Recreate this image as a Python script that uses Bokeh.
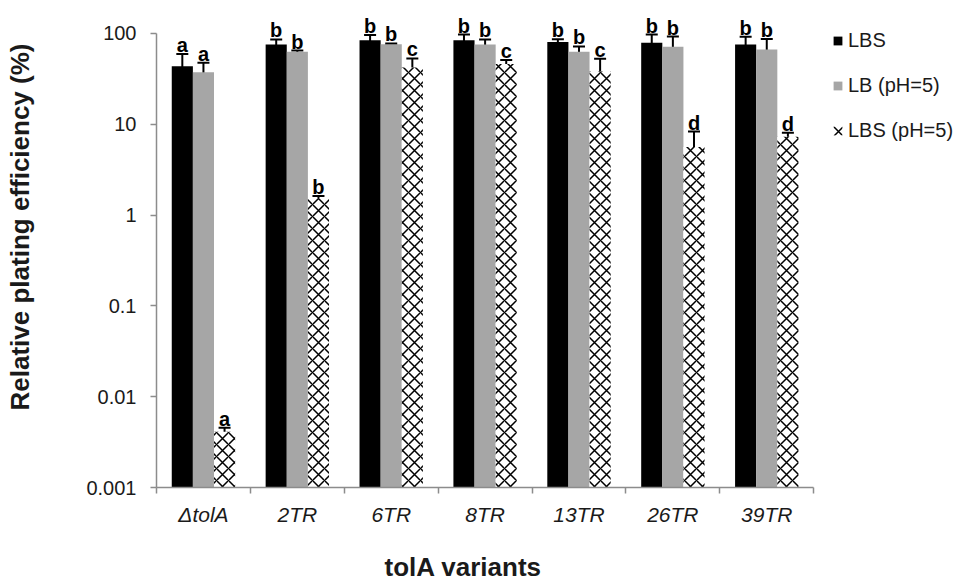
from bokeh.plotting import figure
from bokeh.models import (ColumnDataSource, Range1d, Whisker, TeeHead, LinearAxis,
                          FixedTicker, Legend, LegendItem, Title, NumeralTickFormatter)
from bokeh.transform import dodge
from bokeh.core.properties import value
from bokeh.embed import file_html
from bokeh.resources import INLINE

# ---------------- data ----------------
categories = ["ΔtolA", "2TR", "6TR", "8TR", "13TR", "26TR", "39TR"]
series_names = ["LBS", "LB (pH=5)", "LBS (pH=5)"]

lbs = [43.5, 75.7, 84.3, 84.0, 80.2, 79.0, 75.7]
lbs_err = [16, 10, 11.5, 13, 6, 18, 16]
lb5 = [37.4, 62.8, 76.0, 75.7, 62.8, 71.3, 66.6]
lb5_err = [10, 2, 1.5, 10, 9, 21, 20]
lbs5 = [0.0041, 1.5, 42, 46, 38, 5.6, 7.3]
lbs5_err = [0.00045, 0.12, 11, 5, 14.5, 2.7, 0.75]

lbs_letters = ["a", "b", "b", "b", "b", "b", "b"]
lb5_letters = ["a", "b", "b", "b", "b", "b", "b"]
lbs5_letters = ["a", "b", "c", "c", "c", "d", "d"]

y_ticks = [0.001, 0.01, 0.1, 1, 10, 100]
y_tick_labels = ["0.001", "0.01", "0.1", "1", "10", "100"]

x_title = "tolA variants"
y_title = "Relative plating efficiency (%)"

# ---------------- layout / styling ----------------
y_view_top = 188      # head-room above the axis so the letters stay inside the plot area
x_view_end = 8.67     # room to the right of the last group for the legend
FONT = "Liberation Sans"
AXIS_COLOR = "#8c8c8c"
TEXT = "#1a1a1a"
GRAY = "#a6a6a6"
OFF = 0.225
W = 0.225
n = len(categories)

src = ColumnDataSource(dict(
    x=[i + 0.5 for i in range(n)],
    lbs=lbs, lbs_lo=[v - e for v, e in zip(lbs, lbs_err)], lbs_hi=[v + e for v, e in zip(lbs, lbs_err)],
    lb5=lb5, lb5_lo=[v - e for v, e in zip(lb5, lb5_err)], lb5_hi=[v + e for v, e in zip(lb5, lb5_err)],
    lbs5=lbs5, lbs5_lo=[v - e for v, e in zip(lbs5, lbs5_err)], lbs5_hi=[v + e for v, e in zip(lbs5, lbs5_err)],
    lbs_let=lbs_letters, lb5_let=lb5_letters, lbs5_let=lbs5_letters,
))

p = figure(width=974, height=584, x_range=Range1d(0, x_view_end),
           y_axis_type="log", y_range=(y_ticks[0], y_view_top),
           output_backend="svg", toolbar_location=None, x_axis_location=None,
           min_border_left=156, min_border_right=4, min_border_top=8, min_border_bottom=97)
p.outline_line_color = None
p.grid.grid_line_color = None
p.background_fill_color = "white"

# y axis
ya = p.yaxis[0]
ya.bounds = (y_ticks[0], y_ticks[-1])
ya.ticker = FixedTicker(ticks=y_ticks, minor_ticks=[])
ya.formatter = NumeralTickFormatter(format="0.[000]")
ya.major_label_overrides = dict(zip(y_ticks, y_tick_labels))
ya.axis_line_color = AXIS_COLOR
ya.axis_line_width = 1.5
ya.major_tick_line_color = AXIS_COLOR
ya.major_tick_line_width = 1.5
ya.major_tick_out = 6
ya.major_tick_in = 0
ya.minor_tick_line_color = None
ya.major_label_standoff = 14
ya.major_label_text_font = FONT
ya.major_label_text_font_size = "20px"
ya.major_label_text_color = TEXT
ya.axis_label = " "                     # blank spacer: pushes the y title outwards
ya.axis_label_text_font_size = "10px"
ya.axis_label_standoff = 35

# x axis: labels at group centres, tick marks at group boundaries
xa = LinearAxis(
    bounds=(0, n),
    ticker=FixedTicker(ticks=[i + 0.5 for i in range(n)], minor_ticks=list(range(n + 1))),
    major_label_overrides={i + 0.5: c for i, c in enumerate(categories)},
    axis_line_color=AXIS_COLOR, axis_line_width=1.5,
    major_tick_line_color=None, major_tick_out=0, major_tick_in=0,
    minor_tick_line_color=AXIS_COLOR, minor_tick_line_width=1.5,
    minor_tick_out=6, minor_tick_in=0,
    major_label_standoff=9,
    major_label_text_font=FONT, major_label_text_font_size="21px",
    major_label_text_font_style="italic", major_label_text_color=TEXT,
    axis_label=" ", axis_label_text_font_size="10px", axis_label_standoff=7,  # spacer
)
p.add_layout(xa, "below")

bottom = y_ticks[0]
r1 = p.vbar(x=dodge("x", -OFF), top="lbs", bottom=bottom, width=W,
            fill_color="black", line_color=None, source=src)
r2 = p.vbar(x=dodge("x", 0), top="lb5", bottom=bottom, width=W,
            fill_color=GRAY, line_color=None, source=src)
r3 = p.vbar(x=dodge("x", OFF), top="lbs5", bottom=bottom, width=W,
            fill_color="white", line_color=None, hatch_pattern="diagonal_cross",
            hatch_color="black", hatch_scale=12, hatch_weight=1.5, source=src)

for off, key in [(-OFF, "lbs"), (0, "lb5"), (OFF, "lbs5")]:
    wk = Whisker(source=src, base=dodge("x", off),
                 upper=key + "_hi", lower=key + "_lo", dimension="height",
                 line_color="black", line_width=2,
                 upper_head=TeeHead(size=12, line_width=2, line_color="black"),
                 lower_head=TeeHead(size=12, line_width=2, line_color="black"))
    p.add_layout(wk)
    p.text(x=dodge("x", off), y=key + "_hi", text=key + "_let",
           text_align="center", text_baseline="alphabetic", y_offset=-9,
           text_font=value(FONT), text_font_style="bold", text_font_size="20px",
           text_color="black", source=src)

legend = Legend(items=[LegendItem(label=series_names[0], renderers=[r1]),
                       LegendItem(label=series_names[1], renderers=[r2]),
                       LegendItem(label=series_names[2], renderers=[r3])],
                location=(676, 345), orientation="vertical",
                glyph_width=11, glyph_height=11, label_standoff=5, spacing=22,
                padding=0, margin=0, border_line_color=None, background_fill_alpha=0,
                label_text_font=FONT, label_text_font_size="20px", label_text_color=TEXT)
p.add_layout(legend)

p.add_layout(Title(text=y_title, align="left", offset=77, vertical_align="bottom", standoff=0,
                   text_font=FONT, text_font_style="bold", text_font_size="26px",
                   text_color=TEXT), "left")
p.add_layout(Title(text=x_title, align="left", offset=228, vertical_align="bottom", standoff=0,
                   text_font=FONT, text_font_style="bold", text_font_size="26px",
                   text_color=TEXT), "below")

open("out.html", "w").write(file_html(p, INLINE))
